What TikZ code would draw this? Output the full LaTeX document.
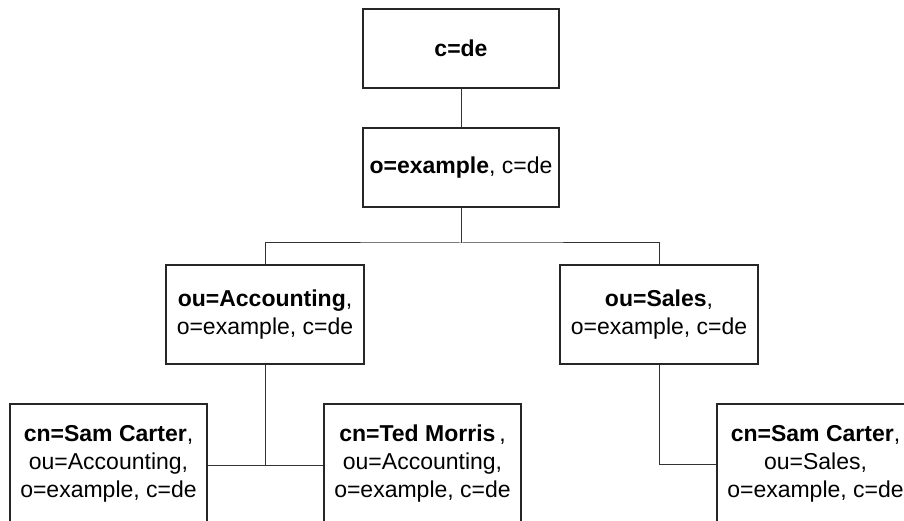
\documentclass[tikz,border=0pt]{standalone}
\usepackage{fontspec}
\setmainfont{Liberation Sans}
\begin{document}
\begin{tikzpicture}[x=1pt,y=-1pt,
  entry/.style={draw=black!85, line width=2pt, fill=white, inner sep=0pt,
    align=center, font=\fontsize{23}{28}\selectfont},
  toprow/.style={entry, minimum width=196pt, minimum height=79pt},
  midrow/.style={entry, minimum width=198pt, minimum height=99pt},
  leafrow/.style={entry, minimum width=197pt, minimum height=120pt},
  link/.style={draw=black!80, line width=1pt}]
\useasboundingbox (0,0) rectangle (904,521);

% directory tree entries
\node[toprow] (root) at (461,48.5) {\textbf{c=de}};
\node[toprow] (org) at (461,167.5) {\textbf{o=example}, c=de};
\node[midrow] (acc) at (265,314.5) {\textbf{ou=Accounting},\\o=example, c=de};
\node[midrow] (sales) at (659,314.5) {\textbf{ou=Sales},\\o=example, c=de};
\node[leafrow] (carterA) at (108.5,464) {\textbf{cn=Sam Carter},\\ou=Accounting,\\o=example, c=de};
\node[leafrow] (morris) at (422.5,464) {\textbf{cn=Ted Morris}\,,\\ou=Accounting,\\o=example, c=de};
\node[leafrow] (carterS) at (815.5,464) {\textbf{cn=Sam Carter},\\ou=Sales,\\o=example, c=de};

% tree links
\draw[link] (root.south) -- (org.north);
\draw[link] (org.south) -- ++(0,35) coordinate (fork);
\draw[link] (acc.north) |- (fork) -| (sales.north);
\draw[link] (acc.south) -- ++(0,100) coordinate (join);
\draw[link] (carterA.east |- join) -- (morris.west |- join);
\draw[link] (sales.south) |- (carterS.west);
\end{tikzpicture}
\end{document}
